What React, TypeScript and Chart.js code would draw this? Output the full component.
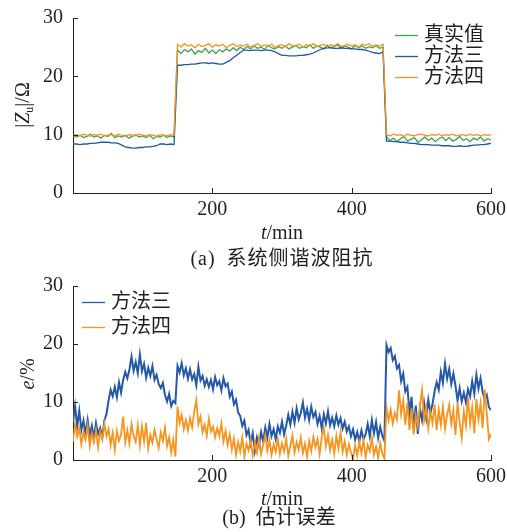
import React, { useEffect, useRef } from 'react';
import { Chart, registerables } from 'chart.js';

Chart.register(...registerables);

// ---------- data ----------
// (a) impedance, one sample every 5 min, t = 0 … 600
const STEP_A = 5;
const trueZ = [
  9.8, 9.6, 9.9, 9.5, 9.7, 10.1, 9.6, 9.8, 9.4, 9.9, 9.7, 10.2, 9.5, 9.8, 9.6, 9.9, 9.4, 9.7, 10.0, 9.6, 9.8, 9.5, 9.9, 9.3, 9.7, 9.6, 9.9, 9.5, 9.8, 9.6,
  24.5, 23.9, 24.6, 24.2, 24.7, 23.8, 24.4, 24.1, 24.8, 24.0, 24.5, 23.9, 24.6, 24.2, 24.7, 24.3, 24.9, 24.4, 25.0, 24.6,
  25.1, 24.7, 25.2, 24.8, 25.0, 24.6, 25.3, 24.9, 24.7, 25.1, 24.8, 25.2, 24.7, 25.0, 25.3, 24.8, 25.1, 24.9, 25.4, 24.8,
  25.2, 25.0, 24.7, 25.3, 24.9, 25.1, 25.4, 24.8, 25.2, 25.0, 24.7, 25.3, 24.9, 25.2, 24.8, 25.1, 24.9, 25.3, 24.8, 25.0,
  9.6, 9.0, 9.4, 8.8, 9.3, 9.7, 8.9, 9.2, 9.5, 8.7, 9.1, 9.6, 9.0, 9.4, 8.8, 9.3, 9.6, 9.0, 9.5, 8.9, 9.2, 9.7, 9.0, 9.3, 8.8, 9.4, 9.1, 9.6, 8.9, 9.3, 9.1,
];
const method3Z = [
  8.4, 8.4, 8.3, 8.4, 8.4, 8.5, 8.5, 8.6, 8.7, 8.7, 8.7, 8.6, 8.6, 8.5, 8.2, 7.9, 7.8, 7.7, 7.7, 7.8, 7.8, 7.9, 7.9, 8.0, 8.1, 8.4, 8.4, 8.3, 8.4, 8.3,
  21.9, 21.9, 22.0, 22.0, 22.1, 22.1, 22.2, 22.3, 22.3, 22.2, 22.3, 22.2, 22.1, 22.1, 22.4, 22.7, 23.2, 23.6, 24.1, 24.5,
  24.5, 24.4, 24.5, 24.5, 24.4, 24.5, 24.5, 24.4, 24.2, 23.9, 23.6, 23.6, 23.5, 23.5, 23.5, 23.6, 23.6, 23.7, 23.8, 24.0,
  24.3, 24.6, 24.8, 24.9, 24.9, 24.8, 24.8, 24.9, 24.8, 24.8, 24.7, 24.7, 24.6, 24.6, 24.5, 24.3, 24.1, 24.0, 23.9, 24.2,
  8.9, 8.9, 8.8, 8.8, 8.7, 8.7, 8.6, 8.5, 8.5, 8.4, 8.3, 8.3, 8.3, 8.2, 8.2, 8.2, 8.1, 8.1, 8.1, 8.0, 8.0, 8.1, 8.0, 8.0, 8.1, 8.2, 8.2, 8.3, 8.3, 8.4, 8.5,
];
const method4Z = [
  9.9, 10.0, 9.8, 10.1, 9.9, 9.7, 10.0, 9.9, 10.1, 9.8, 9.9, 10.0, 9.8, 10.1, 9.9, 9.7, 10.0, 9.9, 9.8, 10.1, 9.9, 9.8, 10.0, 9.9, 9.7, 10.0, 9.9, 9.8, 10.0, 9.9,
  25.5, 25.0, 25.6, 25.2, 25.4, 24.9, 25.5, 25.1, 25.3, 25.6, 25.0, 25.4, 25.2, 25.5, 24.9, 25.3, 25.6, 25.1, 25.4, 25.2,
  25.5, 25.0, 25.3, 25.6, 25.1, 25.4, 25.2, 25.5, 24.9, 25.3, 25.4, 25.1, 25.6, 25.2, 25.3, 25.5, 25.0, 25.4, 25.2, 25.6,
  25.1, 25.3, 25.5, 25.0, 25.4, 25.2, 25.6, 25.1, 25.3, 25.5, 25.2, 25.4, 25.0, 25.5, 25.3, 25.6, 25.1, 25.4, 25.2, 25.5,
  10.0, 9.8, 10.1, 9.9, 10.0, 9.7, 10.1, 9.9, 9.8, 10.0, 10.1, 9.9, 9.8, 10.0, 9.9, 10.1, 9.8, 10.0, 9.9, 10.1, 9.8, 9.9, 10.0, 9.8, 10.1, 9.9, 10.0, 9.8, 10.0, 9.9, 10.0,
];

// (b) estimation error, one sample every 3 min, t = 0 … 600
const STEP_B = 3;
const method3Err = [
  6.5, 9.3, 5.8, 8.5, 5.2, 6.8, 4.5, 6.9, 4.2, 5.9,
  3.8, 6.4, 4.5, 5.5, 3.9, 6.8, 7.9, 10.2, 12.1, 11.0,
  12.6, 10.8, 13.4, 11.6, 13.8, 15.2, 14.1, 15.6, 17.8, 15.4,
  16.9, 15.0, 18.2, 15.3, 16.6, 14.2, 15.9, 14.5, 16.2, 13.8,
  14.7, 13.1, 12.4, 13.3, 11.2, 10.1, 11.4, 9.3, 10.2, 9.8,
  16.2, 15.1, 16.7, 14.6, 15.8, 14.0, 15.6, 13.9, 14.8, 12.9,
  16.1, 13.7, 14.5, 12.8, 13.9, 12.6, 13.8, 12.2, 14.3, 12.9,
  13.6, 12.0, 14.1, 12.7, 13.2, 10.9, 11.8, 9.6, 10.4, 8.2,
  7.6, 5.9, 6.8, 4.3, 5.2, 2.8, 4.6, 1.6, 3.9, 2.5,
  4.8, 3.2, 5.6, 3.9, 6.2, 4.1, 5.3, 3.6, 5.8, 4.7,
  6.6, 4.4, 5.9, 7.8, 6.1, 8.3, 6.4, 8.9, 7.0, 8.1,
  9.9, 7.3, 8.8, 6.9, 9.2, 7.4, 8.3, 6.2, 7.6, 5.5,
  7.9, 6.3, 8.4, 6.0, 7.3, 5.8, 7.7, 6.1, 7.2, 5.4,
  6.6, 4.9, 5.8, 4.1, 5.3, 3.5, 4.8, 3.2, 5.1, 3.6,
  4.4, 6.2, 4.1, 6.9, 4.6, 6.5, 3.8, 5.7, 4.2, 3.3,
  19.8, 18.6, 19.3, 17.2, 17.9, 15.8, 16.4, 13.6, 14.9, 11.8,
  12.6, 8.1, 10.9, 5.2, 9.4, 4.5, 8.8, 6.9, 9.8, 7.2,
  10.4, 8.1, 9.6, 11.8, 13.4, 12.1, 15.2, 13.3, 16.6, 14.0,
  15.7, 13.1, 14.9, 12.8, 10.3, 12.4, 10.1, 11.6, 9.9, 12.2,
  11.0, 13.6, 11.4, 14.7, 12.3, 14.1, 11.7, 10.4, 11.2, 9.1,
  8.6,
];
const method4Err = [
  3.2, 6.1, 4.0, 5.5, 2.7, 4.8, 3.5, 5.9, 2.4, 4.6,
  3.1, 5.2, 2.2, 4.9, 3.6, 6.3, 4.1, 5.4, 2.6, 4.7,
  1.7, 5.0, 3.3, 4.4, 7.5, 3.0, 5.1, 2.8, 6.2, 4.2,
  3.1, 6.0, 2.5, 5.8, 3.2, 6.4, 2.0, 4.3, 3.0, 5.2,
  3.6, 2.1, 4.8, 3.3, 5.6, 2.4, 3.9, 1.3, 3.5, 0.6,
  9.2, 6.4, 7.8, 5.3, 6.9, 5.1, 7.2, 5.6, 8.3, 10.3,
  6.2, 7.5, 4.8, 6.1, 4.2, 7.1, 4.9, 5.8, 3.9, 5.5,
  4.1, 6.3, 3.2, 5.0, 2.6, 4.4, 1.8, 3.7, 0.9, 3.1,
  1.5, 3.9, 0.6, 2.8, 1.7, 3.5, 0.8, 2.9, 1.3, 3.8,
  1.0, 2.6, 4.3, 1.6, 3.4, 0.9, 2.7, 1.4, 3.6, 1.1,
  2.9, 1.5, 3.7, 0.7, 2.4, 4.2, 1.3, 3.1, 1.8, 3.9,
  1.2, 2.8, 0.6, 3.3, 1.5, 4.0, 2.2, 3.6, 1.0, 3.9,
  5.6, 2.4, 4.3, 1.7, 3.5, 1.1, 4.1, 2.0, 4.8, 1.4,
  3.2, 0.9, 2.7, 1.3, 0.2, 2.5, 0.8, 3.1, 1.2, 3.4,
  0.5, 2.6, 1.5, 3.7, 0.9, 2.3, 0.4, 2.9, 1.1, 0.3,
  9.0, 6.8, 8.7, 6.3, 8.1, 7.0, 12.0, 7.9, 10.3, 6.1,
  9.8, 5.2, 8.9, 4.4, 7.6, 5.8, 9.4, 12.1, 6.9, 9.1,
  5.5, 8.3, 6.4, 9.6, 5.2, 8.7, 6.0, 9.2, 5.4, 7.8,
  9.5, 6.2, 8.6, 4.3, 9.9, 6.5, 3.8, 8.4, 5.9, 10.8,
  6.3, 9.1, 4.6, 10.5, 7.0, 9.8, 5.5, 12.2, 8.0, 3.6,
  4.5,
];

const X_MIN = 0;
const X_MAX = 600;
const xTicks = [200, 400, 600];
const Y_MIN = 0;
const Y_MAX = 30;
const yTicks = [0, 10, 20, 30];

const legendA = ['真实值', '方法三', '方法四'];
const legendB = ['方法三', '方法四'];

// ---------- styles ----------
const SERIF = "'Liberation Serif', 'Times New Roman', 'Noto Sans CJK SC', serif";
const INK = '#231f20';
const GREEN = '#3aa655';
const BLUE = '#2458a8';
const ORANGE = '#f7941e';
const W = 507;
const H = 266;

Chart.defaults.font.family = SERIF;
Chart.defaults.font.size = 20;
Chart.defaults.color = INK;

const toPoints = (vals: number[], step: number) => vals.map((v, i) => ({ x: i * step, y: v }));

const zeroPad = (s: any) => {
  s.paddingLeft = 0;
  s.paddingRight = 0;
  s.paddingTop = 0;
  s.paddingBottom = 0;
};

const decorPlugin = {
  id: 'decor',
  afterDraw(chart: any, _args: any, opts: any) {
    const { ctx, chartArea, scales } = chart;
    ctx.save();
    ctx.strokeStyle = INK;
    ctx.lineWidth = 1;
    ctx.beginPath();
    scales.x.ticks.forEach((t: any) => {
      if (t.value === X_MIN) return;
      const px = Math.round(scales.x.getPixelForValue(t.value)) + 0.5;
      ctx.moveTo(px, chartArea.bottom);
      ctx.lineTo(px, chartArea.bottom - 5);
    });
    scales.y.ticks.forEach((t: any) => {
      if (t.value === Y_MIN) return;
      const py = Math.round(scales.y.getPixelForValue(t.value)) + 0.5;
      ctx.moveTo(chartArea.left, py);
      ctx.lineTo(chartArea.left + 5, py);
    });
    ctx.stroke();
    // legend
    const lg = opts.legend;
    ctx.font = `20px ${SERIF}`;
    ctx.textBaseline = 'middle';
    ctx.textAlign = 'left';
    lg.items.forEach((label: string, i: number) => {
      const y = lg.y + i * lg.dy;
      ctx.strokeStyle = lg.colors[i];
      ctx.lineWidth = 1.3;
      ctx.beginPath();
      ctx.moveTo(lg.x, y + 0.5);
      ctx.lineTo(lg.x + lg.len, y + 0.5);
      ctx.stroke();
      ctx.fillStyle = INK;
      ctx.fillText(label, lg.x + lg.len + 6, y + 1);
    });
    ctx.restore();
  },
};

function makeConfig(datasets: any[], padTop: number, xHeight: number, legend: any) {
  return {
    type: 'line',
    data: { datasets },
    plugins: [decorPlugin],
    options: {
      responsive: false,
      animation: false,
      devicePixelRatio: 1,
      layout: { padding: { left: 0, right: 16, top: padTop, bottom: 0 } },
      elements: { point: { radius: 0 }, line: { tension: 0 } },
      plugins: {
        legend: { display: false },
        tooltip: { enabled: false },
        decor: { legend },
      },
      scales: {
        x: {
          type: 'linear',
          min: X_MIN,
          max: X_MAX,
          afterBuildTicks: (s: any) => { s.ticks = xTicks.map((v) => ({ value: v })); },
          afterFit: (s: any) => { s.height = xHeight; zeroPad(s); },
          grid: { drawOnChartArea: false, drawTicks: false },
          border: { display: true, color: INK, width: 1 },
          ticks: { padding: 5, font: { size: 20 }, color: INK, maxRotation: 0 },
        },
        y: {
          type: 'linear',
          min: Y_MIN,
          max: Y_MAX,
          afterBuildTicks: (s: any) => { s.ticks = yTicks.map((v) => ({ value: v })); },
          afterFit: (s: any) => { s.width = 73; zeroPad(s); },
          grid: { drawOnChartArea: false, drawTicks: false },
          border: { display: true, color: INK, width: 1 },
          ticks: { padding: 10, font: { size: 20 }, color: INK },
        },
      },
    },
  };
}

function ChartCanvas({ config, top }: { config: any; top: number }) {
  const ref = useRef<HTMLCanvasElement>(null);
  useEffect(() => {
    const chart = new Chart(ref.current as HTMLCanvasElement, config);
    return () => chart.destroy();
  }, []);
  return (
    <canvas
      ref={ref}
      width={W}
      height={H}
      style={{ position: 'absolute', left: 0, top, width: W, height: H }}
    />
  );
}

const textBase: React.CSSProperties = {
  position: 'absolute',
  fontFamily: SERIF,
  fontSize: 20,
  lineHeight: 1,
  color: INK,
  whiteSpace: 'pre',
  transform: 'translate(-50%, -50%)',
};

export default function App() {
  const configA = makeConfig(
    [
      { label: legendA[0], data: toPoints(trueZ, STEP_A), borderColor: GREEN, borderWidth: 1.3, order: 3 },
      { label: legendA[1], data: toPoints(method3Z, STEP_A), borderColor: BLUE, borderWidth: 1.3, order: 2 },
      { label: legendA[2], data: toPoints(method4Z, STEP_A), borderColor: ORANGE, borderWidth: 1.3, order: 1 },
    ],
    18,
    73,
    { x: 395, y: 35, dy: 21, len: 23, items: legendA, colors: [GREEN, BLUE, ORANGE] }
  );
  const configB = makeConfig(
    [
      { label: legendB[0], data: toPoints(method3Err, STEP_B), borderColor: BLUE, borderWidth: 2, order: 2 },
      { label: legendB[1], data: toPoints(method4Err, STEP_B), borderColor: ORANGE, borderWidth: 1.8, order: 1 },
    ],
    20,
    72,
    { x: 82, y: 36, dy: 25, len: 23, items: legendB, colors: [BLUE, ORANGE] }
  );

  return (
    <div style={{ position: 'absolute', left: 0, top: 0, width: W, height: 532, background: '#fff', overflow: 'hidden' }}>
      <ChartCanvas config={configA} top={0} />
      <ChartCanvas config={configB} top={266} />
      <div style={{ ...textBase, left: 23, top: 105, transform: 'translate(-50%, -50%) rotate(-90deg)' }}>
        |<i>Z</i><sub style={{ fontSize: 12, verticalAlign: '-4px' }}>u</sub>|/Ω
      </div>
      <div style={{ ...textBase, left: 27, top: 374, transform: 'translate(-50%, -50%) rotate(-90deg)' }}>
        <i>e</i>/%
      </div>
      <div style={{ ...textBase, left: 282, top: 232 }}>
        <i>t</i>/min
      </div>
      <div style={{ ...textBase, left: 282, top: 258, letterSpacing: '1px' }}>
        {'(a)\u2002系统侧谐波阻抗'}
      </div>
      <div style={{ ...textBase, left: 282, top: 498 }}>
        <i>t</i>/min
      </div>
      <div style={{ ...textBase, left: 279, top: 517 }}>
        {'(b)\u2002估计误差'}
      </div>
    </div>
  );
}
